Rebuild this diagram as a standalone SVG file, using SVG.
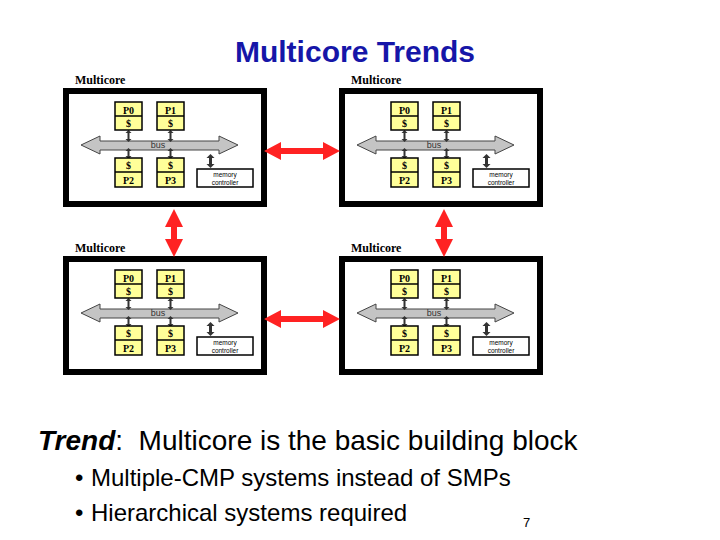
<svg xmlns="http://www.w3.org/2000/svg" width="720" height="540" viewBox="0 0 720 540">
<style>
.lbl{font-family:"Liberation Serif",serif;font-weight:bold;font-size:12px;fill:#000}
.frame{fill:#fff;stroke:#000;stroke-width:6}
.proc{fill:#ffff99;stroke:#000;stroke-width:1.5}
.ptxt{font-family:"Liberation Serif",serif;font-weight:bold;font-size:10px;fill:#000;text-anchor:middle}
.bus{fill:#c4c4c4;stroke:#444;stroke-width:1}
.bustxt{font-family:"Liberation Sans",sans-serif;font-size:9px;fill:#333;text-anchor:middle}
.mc{fill:#fff;stroke:#000;stroke-width:1.5}
.mctxt{font-family:"Liberation Sans",sans-serif;font-size:6.5px;fill:#000;text-anchor:middle}
.link{fill:#333}
.red{fill:#ff2222}
</style>
<defs>
<g id="mod">
<text class="lbl" x="75" y="84">Multicore</text>
<rect class="frame" x="66" y="91" width="198" height="113"/>
<polygon class="bus" points="81,145 100,136 100,141 219,141 219,136 238,145 219,154 219,150 100,150 100,154"/>
<text class="bustxt" x="158" y="148">bus</text>
<!-- links -->
<g class="link">
<rect x="127.5" y="132" width="2" height="8"/><polygon points="125.5,133 131.5,133 128.5,130"/><polygon points="125.5,139 131.5,139 128.5,142"/>
<rect x="127.5" y="150" width="2" height="7"/><polygon points="125.5,151 131.5,151 128.5,148"/><polygon points="125.5,156 131.5,156 128.5,159"/>
<rect x="169.5" y="132" width="2" height="8"/><polygon points="167.5,133 173.5,133 170.5,130"/><polygon points="167.5,139 173.5,139 170.5,142"/>
<rect x="169.5" y="150" width="2" height="7"/><polygon points="167.5,151 173.5,151 170.5,148"/><polygon points="167.5,156 173.5,156 170.5,159"/>
<rect x="209" y="157" width="3" height="8"/><polygon points="206.5,158 214.5,158 210.5,154"/><polygon points="206.5,164 214.5,164 210.5,168"/>
</g>
<rect class="proc" x="115" y="102" width="27" height="28"/><line x1="115" y1="116" x2="142" y2="116" stroke="#000" stroke-width="1.5"/>
<text class="ptxt" x="128.5" y="114">P0</text><text class="ptxt" x="128.5" y="127">$</text>
<rect class="proc" x="157" y="102" width="27" height="28"/><line x1="157" y1="116" x2="184" y2="116" stroke="#000" stroke-width="1.5"/>
<text class="ptxt" x="170.5" y="114">P1</text><text class="ptxt" x="170.5" y="127">$</text>
<rect class="proc" x="115" y="158" width="27" height="29"/><line x1="115" y1="172" x2="142" y2="172" stroke="#000" stroke-width="1.5"/>
<text class="ptxt" x="128.5" y="169">$</text><text class="ptxt" x="128.5" y="184">P2</text>
<rect class="proc" x="157" y="158" width="27" height="29"/><line x1="157" y1="172" x2="184" y2="172" stroke="#000" stroke-width="1.5"/>
<text class="ptxt" x="170.5" y="169">$</text><text class="ptxt" x="170.5" y="184">P3</text>
<rect class="mc" x="197" y="169" width="56" height="18"/>
<text class="mctxt" x="225" y="177">memory</text><text class="mctxt" x="225" y="185">controller</text>
</g>
</defs>
<text x="355" y="62" font-family="Liberation Sans,Arial,sans-serif" font-weight="bold" font-size="30" fill="#1616a8" text-anchor="middle">Multicore Trends</text>
<g id="multicore-tl"><use href="#mod"/></g>
<g id="multicore-tr"><use href="#mod" transform="translate(276,0)"/></g>
<g id="multicore-bl"><use href="#mod" transform="translate(0,168)"/></g>
<g id="multicore-br"><use href="#mod" transform="translate(276,168)"/></g>
<g id="connectors" class="red">
<polygon points="264,151 281,142 281,148 323,148 323,142 340,151 323,160 323,154 281,154 281,160"/>
<polygon points="264,319 281,310 281,316 323,316 323,310 340,319 323,328 323,322 281,322 281,328"/>
<polygon points="174,209 183,227 177,227 177,239 183,239 174,257 165,239 171,239 171,227 165,227"/>
<polygon points="444,209 453,227 447,227 447,239 453,239 444,257 435,239 441,239 441,227 435,227"/>
</g>
<text x="38" y="450" font-family="Liberation Sans,Arial,sans-serif" font-size="28" fill="#000" style="white-space:pre"><tspan font-weight="bold" font-style="italic">Trend</tspan>:  Multicore is the basic building block</text>
<g font-family="Liberation Sans,Arial,sans-serif" font-size="24" fill="#000">
<text x="75" y="486">•</text><text x="91" y="486">Multiple-CMP systems instead of SMPs</text>
<text x="75" y="521">•</text><text x="91" y="521">Hierarchical systems required</text>
</g>
<text x="523" y="527" font-family="Liberation Sans,Arial,sans-serif" font-size="13" fill="#000">7</text>
</svg>
